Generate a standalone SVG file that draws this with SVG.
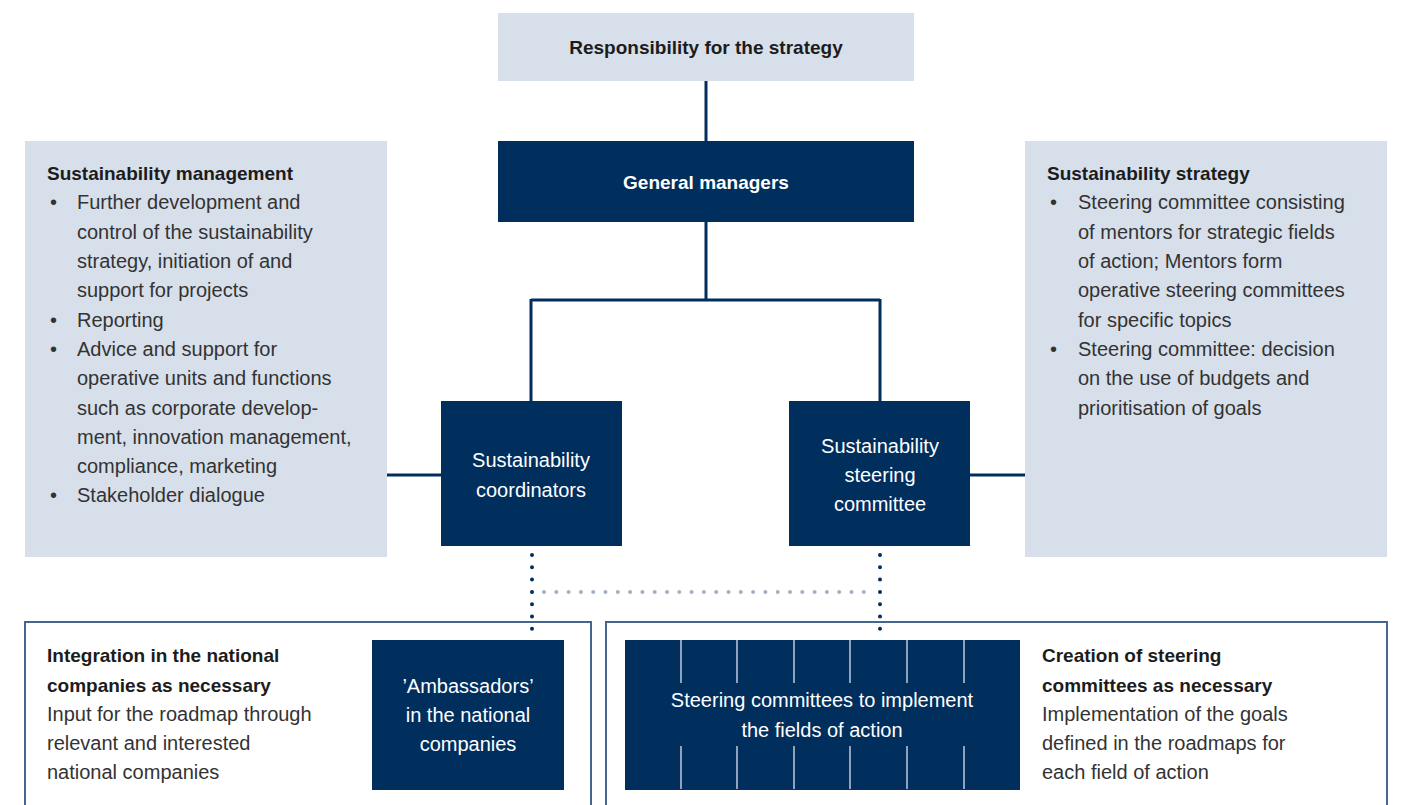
<svg xmlns="http://www.w3.org/2000/svg" width="1404" height="805" viewBox="0 0 1404 805">
<style>
.light{fill:#d7dfeb}
.dark{fill:#002e5d}
.frame{fill:none;stroke:#44658d;stroke-width:2}
.t{font-family:"Liberation Sans",Arial,sans-serif;font-size:20px;fill:#333333}
.b{font-family:"Liberation Sans",Arial,sans-serif;font-size:19px;font-weight:bold;fill:#1c1c1c}
.w{font-family:"Liberation Sans",Arial,sans-serif;font-size:20px;fill:#ffffff;text-anchor:middle}
.wb{font-family:"Liberation Sans",Arial,sans-serif;font-size:19px;font-weight:bold;fill:#ffffff;text-anchor:middle}
.line{fill:none;stroke:#002e5d;stroke-width:3}
.dots{fill:none;stroke:#002e5d;stroke-width:4;stroke-linecap:round;stroke-dasharray:0 12.3}
.ldots{fill:none;stroke:#a3b1c8;stroke-width:4;stroke-linecap:round;stroke-dasharray:0 12.3}
.bar{stroke:#8ea2be;stroke-width:2}
</style>
<rect width="1404" height="805" fill="#ffffff"/>
<g id="connectors">
<path class="line" d="M706 81V141"/>
<path class="line" d="M706 222V300M531 300H880M531 299V401M880 299V401"/>
<path class="line" d="M387 475H441"/>
<path class="line" d="M970 475H1025"/>
<path class="dots" d="M532 555V640"/>
<path class="dots" d="M880 555V640"/>
<path class="ldots" d="M544 592H870"/>
</g>
<g id="responsibility">
<rect class="light" x="498" y="13" width="416" height="68"/>
<text class="b" x="706" y="54" text-anchor="middle">Responsibility for the strategy</text>
</g>
<g id="general-managers">
<rect class="dark" x="498" y="141" width="416" height="81"/>
<text class="wb" x="706" y="189">General managers</text>
</g>
<g id="sustainability-management">
<rect class="light" x="25" y="141" width="362" height="416"/>
<text class="b" x="47" y="180">Sustainability management</text>
<g class="t">
<text x="50" y="209">•</text><text x="77" y="209">Further development and</text>
<text x="77" y="239">control of the sustainability</text>
<text x="77" y="268">strategy, initiation of and</text>
<text x="77" y="297">support for projects</text>
<text x="50" y="327">•</text><text x="77" y="327">Reporting</text>
<text x="50" y="356">•</text><text x="77" y="356">Advice and support for</text>
<text x="77" y="385">operative units and functions</text>
<text x="77" y="415">such as corporate develop-</text>
<text x="77" y="444">ment, innovation management,</text>
<text x="77" y="473">compliance, marketing</text>
<text x="50" y="502">•</text><text x="77" y="502">Stakeholder dialogue</text>
</g>
</g>
<g id="sustainability-strategy">
<rect class="light" x="1025" y="141" width="362" height="416"/>
<text class="b" x="1047" y="180">Sustainability strategy</text>
<g class="t">
<text x="1050" y="209">•</text><text x="1078" y="209">Steering committee consisting</text>
<text x="1078" y="239">of mentors for strategic fields</text>
<text x="1078" y="268">of action; Mentors form</text>
<text x="1078" y="297">operative steering committees</text>
<text x="1078" y="327">for specific topics</text>
<text x="1050" y="356">•</text><text x="1078" y="356">Steering committee: decision</text>
<text x="1078" y="385">on the use of budgets and</text>
<text x="1078" y="415">prioritisation of goals</text>
</g>
</g>
<g id="coordinators">
<rect class="dark" x="441" y="401" width="181" height="145"/>
<text class="w" x="531" y="467">Sustainability</text>
<text class="w" x="531" y="497">coordinators</text>
</g>
<g id="steering-committee">
<rect class="dark" x="789" y="401" width="181" height="145"/>
<text class="w" x="880" y="453">Sustainability</text>
<text class="w" x="880" y="482">steering</text>
<text class="w" x="880" y="511">committee</text>
</g>
<g id="integration">
<rect class="frame" x="25" y="622" width="566" height="200"/>
<text class="b" x="47" y="662">Integration in the national</text>
<text class="b" x="47" y="692">companies as necessary</text>
<text class="t" x="47" y="721">Input for the roadmap through</text>
<text class="t" x="47" y="750">relevant and interested</text>
<text class="t" x="47" y="779">national companies</text>
</g>
<g id="ambassadors">
<rect class="dark" x="372" y="640" width="192" height="150"/>
<text class="w" x="468" y="693">’Ambassadors’</text>
<text class="w" x="468" y="722">in the national</text>
<text class="w" x="468" y="751">companies</text>
</g>
<g id="creation">
<rect class="frame" x="606" y="622" width="781" height="200"/>
<text class="b" x="1042" y="662">Creation of steering</text>
<text class="b" x="1042" y="692">committees as necessary</text>
<text class="t" x="1042" y="721">Implementation of the goals</text>
<text class="t" x="1042" y="750">defined in the roadmaps for</text>
<text class="t" x="1042" y="779">each field of action</text>
</g>
<g id="steering-committees">
<rect class="dark" x="625" y="640" width="395" height="150"/>
<path class="bar" d="M681 640V683M737 640V683M794 640V683M850 640V683M907 640V683M964 640V683M681 746V789M737 746V789M794 746V789M850 746V789M907 746V789M964 746V789"/>
<text class="w" x="822" y="707">Steering committees to implement</text>
<text class="w" x="822" y="737">the fields of action</text>
</g>
</svg>
